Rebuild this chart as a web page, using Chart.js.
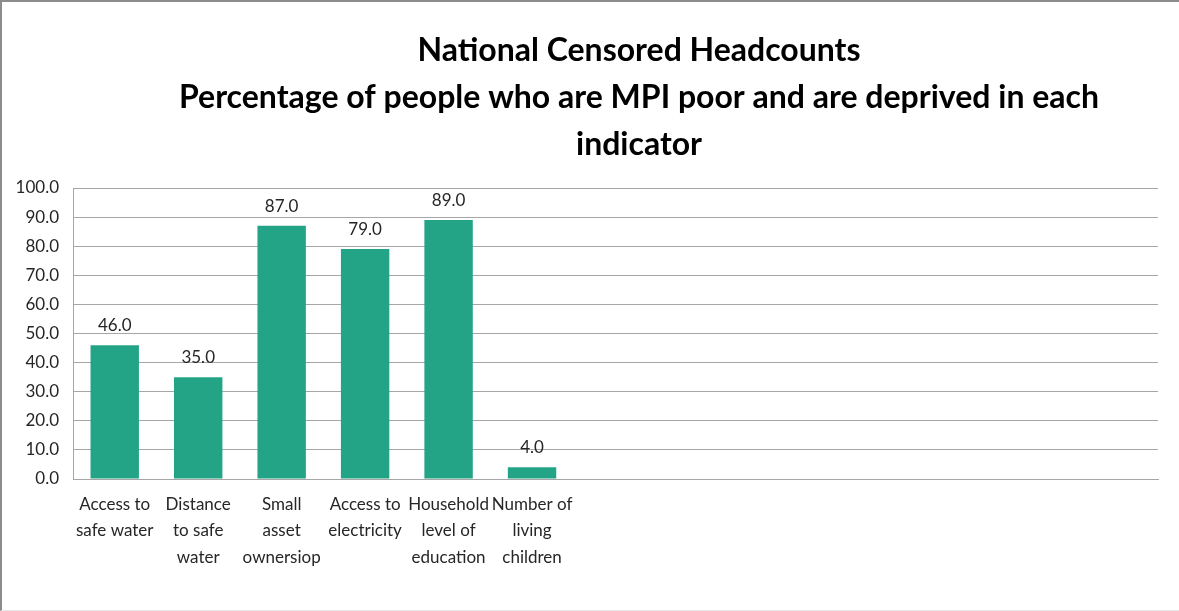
<!DOCTYPE html>
<html>
<head>
<meta charset="utf-8">
<script src="https://cdn.jsdelivr.net/npm/chart.js@4/dist/chart.umd.min.js"></script>
<style>
  html, body { margin: 0; padding: 0; background: #fff; }
  #wrap { position: relative; width: 1179px; height: 611px; box-sizing: border-box;
          border-left: 2px solid #8c8c8c; border-top: 2px solid #8c8c8c; border-bottom: 1px solid #e6e6e6; }
  canvas { display: block; }
</style>
</head>
<body>
<div id="wrap"><canvas id="c" width="1177" height="608"></canvas></div>
<script>
const titleLines = [
    'National Censored Headcounts',
    'Percentage of people who are MPI poor and are deprived in each',
    'indicator'
];

const categories = [
    ['Access to', 'safe water'],
    ['Distance', 'to safe', 'water'],
    ['Small', 'asset', 'ownersiop'],
    ['Access to', 'electricity'],
    ['Household', 'level of', 'education'],
    ['Number of', 'living', 'children'],
    '', '', '', '', '', '', ''
];

const headcounts = [46.0, 35.0, 87.0, 79.0, 89.0, 4.0, null, null, null, null, null, null, null];

const yTicks = { min: 0, max: 100, step: 10 };

const FONT = 'Lato, "Open Sans", sans-serif';
const BAR_COLOR = 'rgb(36, 164, 134)';
const GRID_COLOR = '#a6a6a6';

// title drawn by hand so it can sit where the original had it
const titlePlugin = {
    id: 'titlePlugin',
    afterDraw(chart) {
        const { ctx } = chart;
        ctx.save();
        ctx.font = 'bold 32px ' + FONT;
        ctx.fillStyle = '#000';
        ctx.textAlign = 'center';
        ctx.textBaseline = 'middle';
        titleLines.forEach((line, i) => ctx.fillText(line, 637, 49 + i * 47));
        ctx.restore();
    }
};

const valueLabelsPlugin = {
    id: 'valueLabelsPlugin',
    afterDatasetsDraw(chart) {
        const { ctx } = chart;
        ctx.save();
        ctx.font = '17px ' + FONT;
        ctx.fillStyle = '#262626';
        ctx.textAlign = 'center';
        ctx.textBaseline = 'bottom';
        const meta = chart.getDatasetMeta(0);
        meta.data.forEach((bar, i) => {
            const v = headcounts[i];
            if (v === null) return;
            ctx.fillText(v.toFixed(1), bar.x, bar.y - 11);
        });
        ctx.restore();
    }
};

new Chart(document.getElementById('c'), {
    type: 'bar',
    data: {
        labels: categories,
        datasets: [{
            label: 'Censored headcount',
            data: headcounts,
            backgroundColor: BAR_COLOR,
            borderWidth: 0,
            categoryPercentage: 1,
            barPercentage: 0.58
        }]
    },
    options: {
        responsive: false,
        animation: false,
        layout: { padding: { top: 186, right: 21, left: 0, bottom: 0 } },
        plugins: {
            legend: { display: false },
            title: { display: false },
            tooltip: { enabled: false }
        },
        scales: {
            x: {
                grid: { display: false, drawTicks: false },
                border: { display: true, color: GRID_COLOR, width: 1 },
                ticks: {
                    autoSkip: false, maxRotation: 0, minRotation: 0,
                    padding: 13, color: '#262626',
                    font: { family: FONT, size: 17, lineHeight: 1.53 }
                },
                afterFit: axis => { axis.height = 131; }
            },
            y: {
                min: yTicks.min, max: yTicks.max,
                grid: { color: GRID_COLOR, drawTicks: false, lineWidth: 1 },
                border: { display: true, color: GRID_COLOR, width: 1 },
                ticks: {
                    stepSize: yTicks.step, padding: 14, color: '#262626',
                    font: { family: FONT, size: 17 },
                    callback: v => Number(v).toFixed(1)
                },
                afterFit: axis => { axis.width = 71; }
            }
        }
    },
    plugins: [titlePlugin, valueLabelsPlugin]
});
</script>
</body>
</html>
